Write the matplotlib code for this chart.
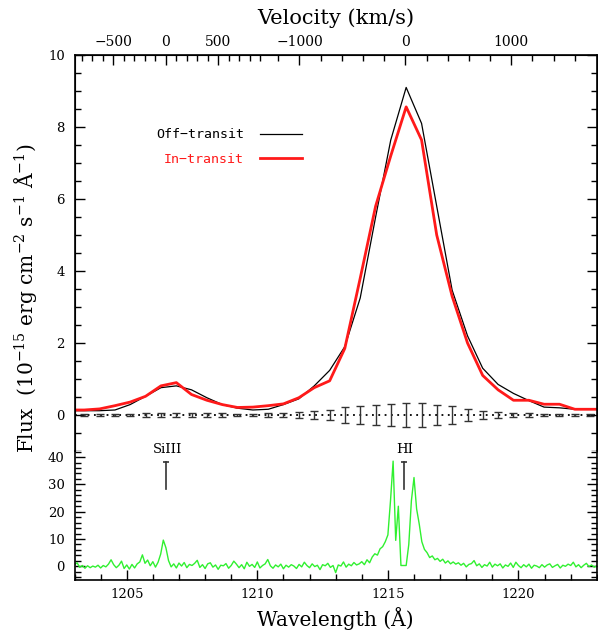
import numpy as np
import matplotlib.pyplot as plt
from matplotlib.ticker import MultipleLocator

plt.rcParams['font.family'] = 'DejaVu Serif'
plt.rcParams['mathtext.fontset'] = 'dejavuserif'

# Binned Lyman-alpha profile (bin centres in Angstrom)
wave = [1202.78, 1203.37, 1203.96, 1204.55, 1205.13, 1205.72, 1206.31, 1206.90,
        1207.48, 1208.07, 1208.66, 1209.24, 1209.83, 1210.42, 1211.00, 1211.59,
        1212.18, 1212.77, 1213.35, 1213.94, 1214.53, 1215.11, 1215.70, 1216.29,
        1216.87, 1217.46, 1218.05, 1218.63, 1219.22, 1219.81, 1220.40, 1220.98,
        1221.57, 1222.16, 1222.74, 1223.33]
off_transit = [0.12, 0.12, 0.12, 0.14, 0.29, 0.52, 0.76, 0.81, 0.70, 0.48, 0.29, 0.19,
               0.14, 0.16, 0.29, 0.45, 0.81, 1.24, 1.90, 3.25, 5.50, 7.64, 9.10, 8.10,
               5.80, 3.47, 2.20, 1.30, 0.85, 0.60, 0.40, 0.22, 0.20, 0.16, 0.16, 0.16]
in_transit = [0.14, 0.14, 0.17, 0.26, 0.36, 0.52, 0.81, 0.90, 0.57, 0.41, 0.29, 0.21,
              0.22, 0.26, 0.31, 0.48, 0.76, 0.95, 1.85, 3.80, 5.80, 7.20, 8.56, 7.64,
              5.00, 3.30, 2.00, 1.10, 0.70, 0.41, 0.41, 0.30, 0.30, 0.16, 0.16, 0.16]
diff_err = [0.03, 0.03, 0.04, 0.03, 0.04, 0.05, 0.06, 0.06, 0.06, 0.05, 0.05, 0.03,
            0.04, 0.05, 0.06, 0.08, 0.10, 0.15, 0.22, 0.26, 0.29, 0.30, 0.33, 0.33,
            0.29, 0.25, 0.17, 0.10, 0.08, 0.06, 0.05, 0.04, 0.04, 0.04, 0.03, 0.03]

# Full-resolution spectrum, 0.1 A steps from 1203.0 to 1223.0
spec = [0.6, 1.3, -0.4, 0.3, -0.7, 0.2, -0.5, 0.1, -0.3, 0.4,
        -0.6, 0.3, -0.2, 0.8, 2.4, 0.6, -0.5, 0.4, 1.9, -0.8,
        0.5, -1.0, 0.7, -0.6, 0.9, 1.6, 4.2, 1.1, 2.3, 0.2,
        1.7, -0.3, 1.5, 4.5, 9.6, 6.8, 2.1, -0.2, 0.9, -0.6,
        1.2, 0.1, 1.4, -0.5, 0.7, 0.3, 1.1, 2.2, -0.4, 0.6,
        -0.8, 0.9, 1.3, -0.3, 0.5, -1.1, 0.4, 0.2, 1.0, -0.7,
        0.3, 1.9, 0.8, -0.5, 0.6, -0.9, 1.5, 0.0, 0.7, -0.4,
        1.6, -0.6, 0.3, 0.9, 2.5, 0.2, -0.7, 0.5, -0.2, 0.8,
        -0.9, 0.4, -0.3, 0.6, 0.1, -0.8, 0.7, -0.2, 1.5, 0.3,
        -0.5, 0.9, -0.1, 0.4, -1.2, 0.6, 0.2, 1.1, -0.4, 0.3,
        -2.3, 0.5, 0.1, 1.6, -0.3, 0.8, 0.2, 1.4, 0.5, 0.9,
        1.7, 0.6, 2.4, 1.3, 3.4, 4.6, 4.1, 6.4, 7.2, 9.0,
        11.5, 24.0, 38.5, 9.5, 22.0, 0.3, 0.3, 0.3, 8.0, 24.0,
        32.5, 21.0, 15.5, 9.0, 6.2, 5.0, 3.2, 3.8, 2.4, 2.9,
        1.8, 2.6, 1.2, 2.0, 0.9, 1.6, 0.8, 1.3, 0.4, 1.1,
        -0.2, 0.7, 1.0, 2.1, 0.2, 0.9, -0.4, 0.6, 0.1, 1.5,
        -0.3, 0.8, 0.2, 0.9, -0.6, 0.5, 0.0, 1.2, -0.4, 1.5,
        0.3, -0.5, 0.6, -0.2, 0.8, -0.7, 0.4, 0.1, -0.5, 0.6,
        -0.3, 0.5, 0.9, -0.4, 0.2, 0.7, -0.6, 0.4, 0.0, 0.8,
        0.3, 1.5, -0.2, 0.6, -0.5, 0.4, 1.1, -0.1, 0.5, -0.3,
        0.2]
spec_wave = np.round(np.arange(1203.0, 1223.05, 0.1), 1)

line_names = ['SiIII', 'HI']
line_waves = [1206.5, 1215.6]

# velocity scales on top axis
c_kms = 299792.458
si_rest = 1206.5
hi_rest = 1215.67
si_major = [-500, 0, 500]
si_minor = [v for v in range(-800, 1000, 100) if v not in si_major]
hi_major = [-1000, 0, 1000]
hi_minor = [v for v in range(-1200, 1800, 200) if v not in hi_major]

xmin, xmax = 1203.0, 1223.0

fig = plt.figure(figsize=(5.98, 6.34), dpi=100)
ax = fig.add_axes([0.1246, 0.2886, 0.8734, 0.6246])
axb = fig.add_axes([0.1246, 0.0852, 0.8734, 0.2034])

# top panel
ax.axhline(0, color='k', lw=1.3, ls=(0, (1, 2.5)))
ax.errorbar(wave, np.zeros(len(wave)), yerr=diff_err, fmt='none', ecolor='#333333',
            elinewidth=1, capsize=3, capthick=1)
ax.plot(wave, off_transit, color='k', lw=0.9, label='Off\u2212transit')
ax.plot(wave, in_transit, color='#ff1a1a', lw=2.0, label='In\u2212transit')
ax.set_xlim(xmin, xmax)
ax.set_ylim(-1, 10)
ax.yaxis.set_major_locator(MultipleLocator(2))
ax.yaxis.set_minor_locator(MultipleLocator(0.5))
ax.tick_params(axis='y', which='both', direction='in', right=True, labelsize=9.5, pad=7)
ax.tick_params(axis='y', which='major', length=7, width=1)
ax.tick_params(axis='y', which='minor', length=4, width=1)
ax.tick_params(axis='x', which='both', bottom=False, labelbottom=False)
ax.spines['bottom'].set_visible(False)
for s in ['left', 'right', 'top']:
    ax.spines[s].set_linewidth(1.2)

ax.legend(loc='upper left', bbox_to_anchor=(0.156, 0.815), frameon=False,
          markerfirst=False, handlelength=3.2, handletextpad=1.2, labelspacing=0.85,
          borderpad=0, borderaxespad=0, labelcolor='linecolor',
          prop={'family': 'DejaVu Sans Mono', 'size': 9.5})

# velocity axis
axv = ax.twiny()
axv.set_xlim(xmin, xmax)
major_pos = [si_rest * (1 + v / c_kms) for v in si_major] + [hi_rest * (1 + v / c_kms) for v in hi_major]
minor_pos = [si_rest * (1 + v / c_kms) for v in si_minor] + [hi_rest * (1 + v / c_kms) for v in hi_minor]
axv.set_xticks(major_pos)
axv.set_xticklabels(['\u2212500', '0', '500', '\u22121000', '0', '1000'])
axv.set_xticks(minor_pos, minor=True)
axv.tick_params(axis='x', which='both', direction='in', labelsize=10, pad=4, width=1)
axv.tick_params(axis='x', which='major', length=7)
axv.tick_params(axis='x', which='minor', length=4)
axv.spines['bottom'].set_visible(False)
axv.set_xlabel('Velocity (km/s)', fontsize=15, labelpad=8)

# bottom panel
axb.plot(spec_wave, spec, color='#30f030', lw=1.0)
axb.set_xlim(xmin, xmax)
axb.set_ylim(-5, 42.2)
axb.yaxis.set_major_locator(MultipleLocator(10))
axb.yaxis.set_minor_locator(MultipleLocator(2))
axb.xaxis.set_major_locator(MultipleLocator(5))
axb.xaxis.set_minor_locator(MultipleLocator(1))
axb.tick_params(axis='both', which='both', direction='in', labelsize=9.5, width=1)
axb.tick_params(axis='y', which='both', right=True, pad=7)
axb.tick_params(axis='x', which='both', top=False, pad=6)
axb.tick_params(which='major', length=7)
axb.tick_params(which='minor', length=4)
axb.spines['top'].set_visible(False)
for s in ['left', 'right', 'bottom']:
    axb.spines[s].set_linewidth(1.2)
axb.set_xlabel('Wavelength (\u00c5)', fontsize=14.5, labelpad=4)

for name, lw_ in zip(line_names, line_waves):
    axb.plot([lw_, lw_], [28.3, 38.3], color='#333333', lw=1.2, clip_on=False)
    axb.plot([lw_], [38.3], marker='_', ms=5, mew=1.2, color='#333333', clip_on=False)
    axb.text(lw_ + 0.05, 42.8, name, ha='center', va='center', fontsize=9.5, clip_on=False)

fig.text(0.042, 0.53, 'Flux  (10$^{-15}$ erg cm$^{-2}$ s$^{-1}$ \u00c5$^{-1}$)',
         rotation=90, ha='center', va='center', fontsize=14.5)

fig.savefig('out.png', dpi=100)
